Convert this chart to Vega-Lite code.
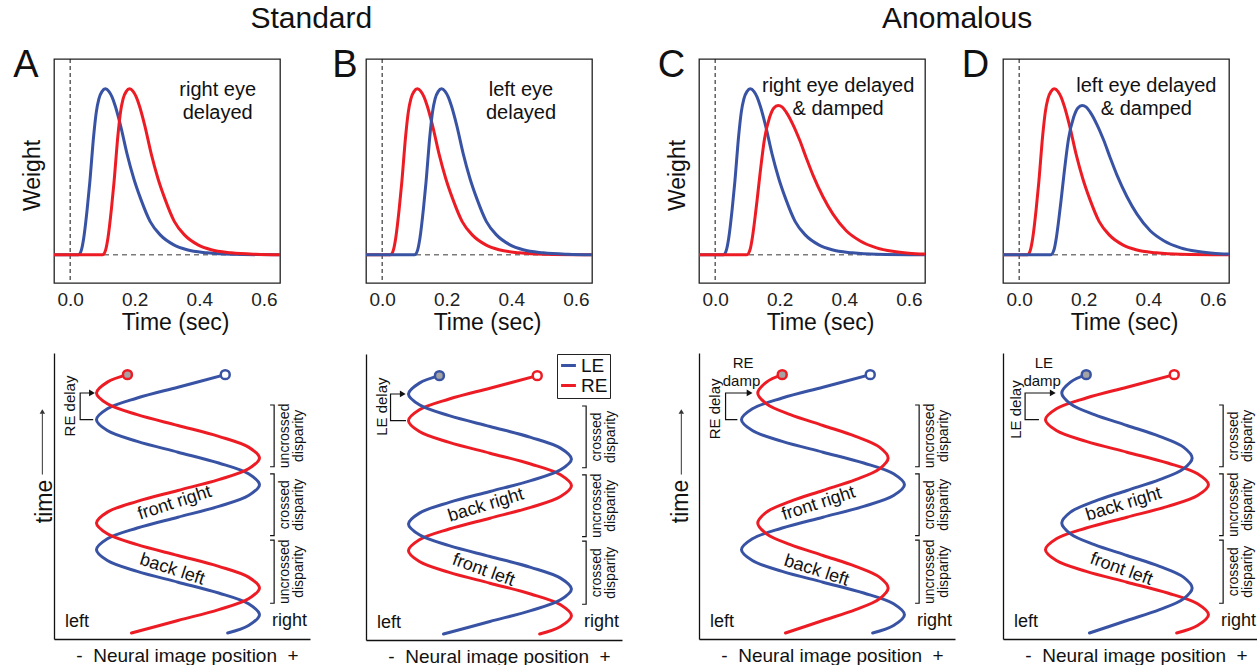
{
"$schema": "https://vega.github.io/schema/vega-lite/v6.json",
"background": "white",
"padding": {"left": 12, "top": 4, "right": 0, "bottom": 0},
"config": {
  "font": "Liberation Sans",
  "view": {"stroke": null},
  "axis": {"grid": false, "ticks": false, "tickSize": 0, "labelFont": "Liberation Sans", "titleFont": "Liberation Sans", "titleFontWeight": "normal", "titleColor": "#111", "labelColor": "#222", "domainColor": "#111", "domainWidth": 1.3},
  "text": {"font": "Liberation Sans", "color": "#111"},
  "title": {"font": "Liberation Sans", "fontWeight": "normal", "fontSize": 30, "color": "#111", "anchor": "middle"},
  "legend": {"labelFont": "Liberation Sans"}
},
"datasets": {
  "wU": [{"t":-0.05,"w":0},{"t":0.026,"w":0},{"t":0.035,"w":0.03},{"t":0.042,"w":0.1},{"t":0.053,"w":0.28},{"t":0.061,"w":0.44},{"t":0.073,"w":0.72},{"t":0.081,"w":0.86},{"t":0.089,"w":0.94},{"t":0.099,"w":0.985},{"t":0.109,"w":1},{"t":0.12,"w":0.985},{"t":0.13,"w":0.95},{"t":0.14,"w":0.895},{"t":0.156,"w":0.78},{"t":0.176,"w":0.61},{"t":0.197,"w":0.46},{"t":0.218,"w":0.34},{"t":0.248,"w":0.2},{"t":0.279,"w":0.12},{"t":0.321,"w":0.06},{"t":0.362,"w":0.03},{"t":0.424,"w":0.012},{"t":0.5,"w":0.003},{"t":0.65,"w":0}],
  "wD": [{"t":-0.05,"w":0},{"t":0.101,"w":0},{"t":0.11,"w":0.03},{"t":0.117,"w":0.1},{"t":0.128,"w":0.28},{"t":0.136,"w":0.44},{"t":0.148,"w":0.72},{"t":0.156,"w":0.86},{"t":0.164,"w":0.94},{"t":0.174,"w":0.985},{"t":0.184,"w":1},{"t":0.195,"w":0.985},{"t":0.205,"w":0.95},{"t":0.215,"w":0.895},{"t":0.231,"w":0.78},{"t":0.251,"w":0.61},{"t":0.272,"w":0.46},{"t":0.293,"w":0.34},{"t":0.323,"w":0.2},{"t":0.354,"w":0.12},{"t":0.396,"w":0.06},{"t":0.437,"w":0.03},{"t":0.499,"w":0.012},{"t":0.575,"w":0.003},{"t":0.65,"w":0}],
  "wDD": [{"t":-0.05,"w":0},{"t":0.098,"w":0},{"t":0.108,"w":0.03},{"t":0.115,"w":0.1},{"t":0.122,"w":0.2},{"t":0.13,"w":0.33},{"t":0.138,"w":0.47},{"t":0.153,"w":0.7},{"t":0.169,"w":0.83},{"t":0.182,"w":0.885},{"t":0.195,"w":0.9},{"t":0.208,"w":0.89},{"t":0.22,"w":0.86},{"t":0.241,"w":0.785},{"t":0.262,"w":0.69},{"t":0.282,"w":0.585},{"t":0.303,"w":0.48},{"t":0.334,"w":0.35},{"t":0.365,"w":0.245},{"t":0.406,"w":0.145},{"t":0.448,"w":0.085},{"t":0.5,"w":0.042},{"t":0.55,"w":0.021},{"t":0.6,"w":0.01},{"t":0.65,"w":0.005}],
  "sU": [{"t":0.092,"x":0.61},{"t":0.207,"x":0.866},{"t":0.374,"x":1},{"t":0.541,"x":0.866},{"t":0.707,"x":0.5},{"t":0.874,"x":0},{"t":1.041,"x":-0.5},{"t":1.207,"x":-0.866},{"t":1.374,"x":-1},{"t":1.541,"x":-0.866},{"t":1.707,"x":-0.5},{"t":1.874,"x":0},{"t":2.041,"x":0.5},{"t":2.207,"x":0.866},{"t":2.374,"x":1},{"t":2.541,"x":0.866},{"t":2.707,"x":0.5},{"t":2.874,"x":0},{"t":3.041,"x":-0.5},{"t":3.207,"x":-0.866},{"t":3.374,"x":-1},{"t":3.541,"x":-0.866},{"t":3.707,"x":-0.5},{"t":3.874,"x":0},{"t":4.067,"x":0.58}],
  "sD": [{"t":0.092,"x":-0.57},{"t":0.285,"x":0},{"t":0.452,"x":0.5},{"t":0.618,"x":0.866},{"t":0.785,"x":1},{"t":0.952,"x":0.866},{"t":1.118,"x":0.5},{"t":1.285,"x":0},{"t":1.452,"x":-0.5},{"t":1.618,"x":-0.866},{"t":1.785,"x":-1},{"t":1.952,"x":-0.866},{"t":2.118,"x":-0.5},{"t":2.285,"x":0},{"t":2.452,"x":0.5},{"t":2.618,"x":0.866},{"t":2.785,"x":1},{"t":2.952,"x":0.866},{"t":3.118,"x":0.5},{"t":3.285,"x":0},{"t":3.452,"x":-0.5},{"t":3.618,"x":-0.866},{"t":3.785,"x":-1},{"t":3.952,"x":-0.866},{"t":4.067,"x":-0.62}],
  "sDD": [{"t":0.092,"x":-0.46},{"t":0.285,"x":0},{"t":0.452,"x":0.4},{"t":0.618,"x":0.693},{"t":0.785,"x":0.8},{"t":0.952,"x":0.693},{"t":1.118,"x":0.4},{"t":1.285,"x":0},{"t":1.452,"x":-0.4},{"t":1.618,"x":-0.693},{"t":1.785,"x":-0.8},{"t":1.952,"x":-0.693},{"t":2.118,"x":-0.4},{"t":2.285,"x":0},{"t":2.452,"x":0.4},{"t":2.618,"x":0.693},{"t":2.785,"x":0.8},{"t":2.952,"x":0.693},{"t":3.118,"x":0.4},{"t":3.285,"x":0},{"t":3.452,"x":-0.4},{"t":3.618,"x":-0.693},{"t":3.785,"x":-0.8},{"t":3.952,"x":-0.693},{"t":4.067,"x":-0.5}],
  "brackets": [{"id":1,"o":1,"x":1.13,"t":3.6},{"id":1,"o":2,"x":1.18,"t":3.6},{"id":1,"o":3,"x":1.18,"t":2.65},{"id":1,"o":4,"x":1.13,"t":2.65},{"id":2,"o":1,"x":1.13,"t":2.54},{"id":2,"o":2,"x":1.18,"t":2.54},{"id":2,"o":3,"x":1.18,"t":1.59},{"id":2,"o":4,"x":1.13,"t":1.59},{"id":3,"o":1,"x":1.13,"t":1.52},{"id":3,"o":2,"x":1.18,"t":1.52},{"id":3,"o":3,"x":1.18,"t":0.55},{"id":3,"o":4,"x":1.13,"t":0.55}],
  "dispAC": [{"label":"uncrossed","x":1.313,"t":3.125},{"label":"disparity","x":1.485,"t":3.125},{"label":"crossed","x":1.313,"t":2.065},{"label":"disparity","x":1.485,"t":2.065},{"label":"uncrossed","x":1.313,"t":1.035},{"label":"disparity","x":1.485,"t":1.035}],
  "dispBD": [{"label":"crossed","x":1.313,"t":3.125},{"label":"disparity","x":1.485,"t":3.125},{"label":"uncrossed","x":1.313,"t":2.065},{"label":"disparity","x":1.485,"t":2.065},{"label":"crossed","x":1.313,"t":1.035},{"label":"disparity","x":1.485,"t":1.035}],
  "lr": [{"label":"left","x":-1.239,"t":0.257},{"label":"right","x":1.368,"t":0.27}]
},
"spacing": 35,
"resolve": {"scale": {"color": "independent"}, "legend": {"color": "independent"}},
"hconcat": [
 {
  "title": {"text": "Standard", "offset": 12, "dx": -6, "anchor": "middle"},
  "spacing": 21,
  "resolve": {"scale": {"color": "independent"}, "legend": {"color": "independent"}},
  "hconcat": [
   {
    "spacing": 18,
    "resolve": {"scale": {"color": "independent"}, "legend": {"color": "independent"}},
    "vconcat": [
     {
      "width": 226, "height": 224,
      "view": {"stroke": "#222", "strokeWidth": 1.3},
      "layer": [
       {"data": {"values": [{"t": 0}]}, "mark": {"type": "rule", "color": "#111", "strokeWidth": 1, "strokeDash": [4, 3]},
        "encoding": {"x": {"field": "t", "type": "quantitative", "scale": {"domain": [-0.05, 0.65], "nice": false, "zero": false}, "axis": {"values": [0, 0.2, 0.4, 0.6], "format": ".1f", "title": "Time (sec)", "titleX": 121, "labelFontSize": 19, "titleFontSize": 23, "labelPadding": 7, "titlePadding": 2, "domain": false}}}},
       {"data": {"values": [{"w": 0}]}, "mark": {"type": "rule", "color": "#7a7a7a", "strokeWidth": 1.5, "strokeDash": [5, 4]},
        "encoding": {"y": {"field": "w", "type": "quantitative", "scale": {"domain": [-0.17, 1.18], "nice": false, "zero": false}, "axis": {"title": "Weight", "labels": false, "domain": false, "titleFontSize": 23, "titlePadding": 10, "titleY": 116}}}},
       {"data": {"name": "wU"}, "mark": {"type": "line", "interpolate": "monotone", "strokeWidth": 3}, "encoding": {"x": {"field": "t", "type": "quantitative"}, "y": {"field": "w", "type": "quantitative"}, "color": {"datum": "LE", "scale": {"domain": ["LE", "RE"], "range": ["#3953a4", "#ed1c24"]}, "legend": null}}},
       {"data": {"name": "wD"}, "mark": {"type": "line", "interpolate": "monotone", "strokeWidth": 3}, "encoding": {"x": {"field": "t", "type": "quantitative"}, "y": {"field": "w", "type": "quantitative"}, "color": {"datum": "RE", "scale": {"domain": ["LE", "RE"], "range": ["#3953a4", "#ed1c24"]}, "legend": null}}},
       {"data": {"values": [{"label": "A", "t": -0.137, "w": 1.071}]}, "mark": {"type": "text", "fontSize": 38, "align": "center", "baseline": "alphabetic"}, "encoding": {"x": {"field": "t", "type": "quantitative"}, "y": {"field": "w", "type": "quantitative"}, "text": {"field": "label"}}},
       {"data": {"values": [{"label": "right eye", "t": 0.457, "w": 0.956}, {"label": "delayed", "t": 0.457, "w": 0.819}]}, "mark": {"type": "text", "fontSize": 20, "align": "center", "baseline": "alphabetic"}, "encoding": {"x": {"field": "t", "type": "quantitative"}, "y": {"field": "w", "type": "quantitative"}, "text": {"field": "label"}}}
      ]
     },
     {
      "width": 256, "height": 286,
      "layer": [
       {"data": {"name": "sU"}, "mark": {"type": "line", "interpolate": "catmull-rom", "strokeWidth": 3, "strokeCap": "round"},
        "encoding": {"x": {"field": "x", "type": "quantitative", "scale": {"domain": [-1.521, 1.62], "nice": false, "zero": false}, "axis": {"title": "-\u00a0\u00a0Neural image position\u00a0\u00a0+", "labels": false, "titleFontSize": 19, "titlePadding": 7, "titleX": 133}},
         "y": {"field": "t", "type": "quantitative", "scale": {"domain": [0, 4.4], "nice": false, "zero": false}, "axis": {"title": "time", "labels": false, "titleFontSize": 23, "titlePadding": -2, "titleY": 148}},
         "order": {"field": "t"}, "color": {"datum": "LE", "scale": {"domain": ["LE", "RE"], "range": ["#3953a4", "#ed1c24"]}, "legend": null}}},
       {"data": {"name": "sD"}, "mark": {"type": "line", "interpolate": "catmull-rom", "strokeWidth": 3, "strokeCap": "round"},
        "encoding": {"x": {"field": "x", "type": "quantitative"}, "y": {"field": "t", "type": "quantitative"}, "order": {"field": "t"}, "color": {"datum": "RE", "scale": {"domain": ["LE", "RE"], "range": ["#3953a4", "#ed1c24"]}, "legend": null}}},
       {"data": {"values": [{"x": -0.62, "t": 4.067}]}, "mark": {"type": "point", "shape": "circle", "filled": true, "fill": "#a3a3a3", "stroke": "#ed1c24", "strokeWidth": 2.5, "size": 80, "opacity": 1}, "encoding": {"x": {"field": "x", "type": "quantitative"}, "y": {"field": "t", "type": "quantitative"}}},
       {"data": {"values": [{"x": 0.58, "t": 4.067}]}, "mark": {"type": "point", "shape": "circle", "filled": true, "fill": "white", "stroke": "#3953a4", "strokeWidth": 2.5, "size": 80, "opacity": 1}, "encoding": {"x": {"field": "x", "type": "quantitative"}, "y": {"field": "t", "type": "quantitative"}}},
       {"data": {"values": [{"label": "front right", "x": -0.04, "t": 2.09}]}, "mark": {"type": "text", "fontSize": 18, "angle": 342, "align": "center", "baseline": "middle"}, "encoding": {"x": {"field": "x", "type": "quantitative"}, "y": {"field": "t", "type": "quantitative"}, "text": {"field": "label"}}},
       {"data": {"values": [{"label": "back left", "x": -0.07, "t": 1.066}]}, "mark": {"type": "text", "fontSize": 18, "angle": 18, "align": "center", "baseline": "middle"}, "encoding": {"x": {"field": "x", "type": "quantitative"}, "y": {"field": "t", "type": "quantitative"}, "text": {"field": "label"}}},
       {"data": {"name": "lr"}, "mark": {"type": "text", "fontSize": 18, "align": "center", "baseline": "middle"}, "encoding": {"x": {"field": "x", "type": "quantitative"}, "y": {"field": "t", "type": "quantitative"}, "text": {"field": "label"}}},
       {"data": {"name": "dispAC"}, "mark": {"type": "text", "fontSize": 14, "angle": 270, "align": "center", "baseline": "middle"}, "encoding": {"x": {"field": "x", "type": "quantitative"}, "y": {"field": "t", "type": "quantitative"}, "text": {"field": "label"}}},
       {"data": {"name": "brackets"}, "mark": {"type": "line", "color": "#111", "strokeWidth": 1.2}, "encoding": {"x": {"field": "x", "type": "quantitative"}, "y": {"field": "t", "type": "quantitative"}, "detail": {"field": "id"}, "order": {"field": "o"}}},
       {"data": {"values": [{"label": "RE delay", "x": -1.325, "t": 3.585}]}, "mark": {"type": "text", "fontSize": 15, "angle": 270, "align": "center", "baseline": "middle"}, "encoding": {"x": {"field": "x", "type": "quantitative"}, "y": {"field": "t", "type": "quantitative"}, "text": {"field": "label"}}},
       {"data": {"values": [{"o": 1, "x": -1.04, "t": 3.374}, {"o": 2, "x": -1.2, "t": 3.374}, {"o": 3, "x": -1.2, "t": 3.785}, {"o": 4, "x": -1.07, "t": 3.785}]}, "mark": {"type": "line", "color": "#111", "strokeWidth": 1.2}, "encoding": {"x": {"field": "x", "type": "quantitative"}, "y": {"field": "t", "type": "quantitative"}, "order": {"field": "o"}}},
       {"data": {"values": [{"x": -1.055, "t": 3.785}]}, "mark": {"type": "point", "shape": "triangle-right", "filled": true, "color": "#111", "size": 45, "opacity": 1}, "encoding": {"x": {"field": "x", "type": "quantitative"}, "y": {"field": "t", "type": "quantitative"}}},
       {"data": {"values": [{"x": -1.664, "t1": 2.53, "t2": 3.47}]}, "mark": {"type": "rule", "color": "#333", "strokeWidth": 1}, "encoding": {"x": {"field": "x", "type": "quantitative"}, "y": {"field": "t1", "type": "quantitative"}, "y2": {"field": "t2"}}},
       {"data": {"values": [{"x": -1.664, "t": 3.5}]}, "mark": {"type": "point", "shape": "triangle-up", "filled": true, "color": "#333", "size": 30, "opacity": 1}, "encoding": {"x": {"field": "x", "type": "quantitative"}, "y": {"field": "t", "type": "quantitative"}}}
      ]
     }
    ]
   },
   {
    "spacing": 18,
    "resolve": {"scale": {"color": "independent"}, "legend": {"color": "independent"}},
    "vconcat": [
     {
      "width": 226, "height": 224,
      "view": {"stroke": "#222", "strokeWidth": 1.3},
      "layer": [
       {"data": {"values": [{"t": 0}]}, "mark": {"type": "rule", "color": "#111", "strokeWidth": 1, "strokeDash": [4, 3]},
        "encoding": {"x": {"field": "t", "type": "quantitative", "scale": {"domain": [-0.05, 0.65], "nice": false, "zero": false}, "axis": {"values": [0, 0.2, 0.4, 0.6], "format": ".1f", "title": "Time (sec)", "titleX": 121, "labelFontSize": 19, "titleFontSize": 23, "labelPadding": 7, "titlePadding": 2, "domain": false}}}},
       {"data": {"values": [{"w": 0}]}, "mark": {"type": "rule", "color": "#7a7a7a", "strokeWidth": 1.5, "strokeDash": [5, 4]},
        "encoding": {"y": {"field": "w", "type": "quantitative", "scale": {"domain": [-0.17, 1.18], "nice": false, "zero": false}, "axis": null}}},
       {"data": {"name": "wU"}, "mark": {"type": "line", "interpolate": "monotone", "strokeWidth": 3}, "encoding": {"x": {"field": "t", "type": "quantitative"}, "y": {"field": "w", "type": "quantitative"}, "color": {"datum": "RE", "scale": {"domain": ["LE", "RE"], "range": ["#3953a4", "#ed1c24"]}, "legend": null}}},
       {"data": {"name": "wD"}, "mark": {"type": "line", "interpolate": "monotone", "strokeWidth": 3}, "encoding": {"x": {"field": "t", "type": "quantitative"}, "y": {"field": "w", "type": "quantitative"}, "color": {"datum": "LE", "scale": {"domain": ["LE", "RE"], "range": ["#3953a4", "#ed1c24"]}, "legend": null}}},
       {"data": {"values": [{"label": "B", "t": -0.115, "w": 1.071}]}, "mark": {"type": "text", "fontSize": 38, "align": "center", "baseline": "alphabetic"}, "encoding": {"x": {"field": "t", "type": "quantitative"}, "y": {"field": "w", "type": "quantitative"}, "text": {"field": "label"}}},
       {"data": {"values": [{"label": "left eye", "t": 0.43, "w": 0.956}, {"label": "delayed", "t": 0.43, "w": 0.819}]}, "mark": {"type": "text", "fontSize": 20, "align": "center", "baseline": "alphabetic"}, "encoding": {"x": {"field": "t", "type": "quantitative"}, "y": {"field": "w", "type": "quantitative"}, "text": {"field": "label"}}}
      ]
     },
     {
      "width": 256, "height": 286,
      "layer": [
       {"data": {"name": "sU"}, "mark": {"type": "line", "interpolate": "catmull-rom", "strokeWidth": 3, "strokeCap": "round"},
        "encoding": {"x": {"field": "x", "type": "quantitative", "scale": {"domain": [-1.521, 1.62], "nice": false, "zero": false}, "axis": {"title": "-\u00a0\u00a0Neural image position\u00a0\u00a0+", "labels": false, "titleFontSize": 19, "titlePadding": 7, "titleX": 133}},
         "y": {"field": "t", "type": "quantitative", "scale": {"domain": [0, 4.4], "nice": false, "zero": false}, "axis": {"title": null, "labels": false}},
         "order": {"field": "t"}, "color": {"datum": "RE", "scale": {"domain": ["LE", "RE"], "range": ["#3953a4", "#ed1c24"]}, "legend": {"orient": "none", "legendX": 191, "legendY": 0, "title": null, "strokeColor": "#222", "fillColor": "white", "padding": 2, "labelFontSize": 19, "labelColor": "#111", "symbolType": "stroke", "symbolStrokeWidth": 3, "symbolSize": 220, "rowPadding": -4, "labelOffset": 3}}}},
       {"data": {"name": "sD"}, "mark": {"type": "line", "interpolate": "catmull-rom", "strokeWidth": 3, "strokeCap": "round"},
        "encoding": {"x": {"field": "x", "type": "quantitative"}, "y": {"field": "t", "type": "quantitative"}, "order": {"field": "t"}, "color": {"datum": "LE", "scale": {"domain": ["LE", "RE"], "range": ["#3953a4", "#ed1c24"]}, "legend": {"orient": "none", "legendX": 191, "legendY": 0, "title": null, "strokeColor": "#222", "fillColor": "white", "padding": 2, "labelFontSize": 19, "labelColor": "#111", "symbolType": "stroke", "symbolStrokeWidth": 3, "symbolSize": 220, "rowPadding": -4, "labelOffset": 3}}}},
       {"data": {"values": [{"x": -0.62, "t": 4.067}]}, "mark": {"type": "point", "shape": "circle", "filled": true, "fill": "#a3a3a3", "stroke": "#3953a4", "strokeWidth": 2.5, "size": 80, "opacity": 1}, "encoding": {"x": {"field": "x", "type": "quantitative"}, "y": {"field": "t", "type": "quantitative"}}},
       {"data": {"values": [{"x": 0.58, "t": 4.067}]}, "mark": {"type": "point", "shape": "circle", "filled": true, "fill": "white", "stroke": "#ed1c24", "strokeWidth": 2.5, "size": 80, "opacity": 1}, "encoding": {"x": {"field": "x", "type": "quantitative"}, "y": {"field": "t", "type": "quantitative"}}},
       {"data": {"values": [{"label": "back right", "x": -0.05, "t": 2.07}]}, "mark": {"type": "text", "fontSize": 18, "angle": 343, "align": "center", "baseline": "middle"}, "encoding": {"x": {"field": "x", "type": "quantitative"}, "y": {"field": "t", "type": "quantitative"}, "text": {"field": "label"}}},
       {"data": {"values": [{"label": "front left", "x": -0.08, "t": 1.07}]}, "mark": {"type": "text", "fontSize": 18, "angle": 20, "align": "center", "baseline": "middle"}, "encoding": {"x": {"field": "x", "type": "quantitative"}, "y": {"field": "t", "type": "quantitative"}, "text": {"field": "label"}}},
       {"data": {"name": "lr"}, "mark": {"type": "text", "fontSize": 18, "align": "center", "baseline": "middle"}, "encoding": {"x": {"field": "x", "type": "quantitative"}, "y": {"field": "t", "type": "quantitative"}, "text": {"field": "label"}}},
       {"data": {"name": "dispBD"}, "mark": {"type": "text", "fontSize": 14, "angle": 270, "align": "center", "baseline": "middle"}, "encoding": {"x": {"field": "x", "type": "quantitative"}, "y": {"field": "t", "type": "quantitative"}, "text": {"field": "label"}}},
       {"data": {"name": "brackets"}, "mark": {"type": "line", "color": "#111", "strokeWidth": 1.2}, "encoding": {"x": {"field": "x", "type": "quantitative"}, "y": {"field": "t", "type": "quantitative"}, "detail": {"field": "id"}, "order": {"field": "o"}}},
       {"data": {"values": [{"label": "LE delay", "x": -1.33, "t": 3.59}]}, "mark": {"type": "text", "fontSize": 15, "angle": 270, "align": "center", "baseline": "middle"}, "encoding": {"x": {"field": "x", "type": "quantitative"}, "y": {"field": "t", "type": "quantitative"}, "text": {"field": "label"}}},
       {"data": {"values": [{"o": 1, "x": -1.03, "t": 3.374}, {"o": 2, "x": -1.22, "t": 3.374}, {"o": 3, "x": -1.22, "t": 3.785}, {"o": 4, "x": -1.09, "t": 3.785}]}, "mark": {"type": "line", "color": "#111", "strokeWidth": 1.2}, "encoding": {"x": {"field": "x", "type": "quantitative"}, "y": {"field": "t", "type": "quantitative"}, "order": {"field": "o"}}},
       {"data": {"values": [{"x": -1.07, "t": 3.785}]}, "mark": {"type": "point", "shape": "triangle-right", "filled": true, "color": "#111", "size": 45, "opacity": 1}, "encoding": {"x": {"field": "x", "type": "quantitative"}, "y": {"field": "t", "type": "quantitative"}}}
      ]
     }
    ]
   }
  ]
 },
 {
  "title": {"text": "Anomalous", "offset": 12, "dx": -1, "anchor": "middle"},
  "spacing": 6,
  "resolve": {"scale": {"color": "independent"}, "legend": {"color": "independent"}},
  "hconcat": [
   {
    "spacing": 18,
    "resolve": {"scale": {"color": "independent"}, "legend": {"color": "independent"}},
    "vconcat": [
     {
      "width": 226, "height": 224,
      "view": {"stroke": "#222", "strokeWidth": 1.3},
      "layer": [
       {"data": {"values": [{"t": 0}]}, "mark": {"type": "rule", "color": "#111", "strokeWidth": 1, "strokeDash": [4, 3]},
        "encoding": {"x": {"field": "t", "type": "quantitative", "scale": {"domain": [-0.05, 0.65], "nice": false, "zero": false}, "axis": {"values": [0, 0.2, 0.4, 0.6], "format": ".1f", "title": "Time (sec)", "titleX": 121, "labelFontSize": 19, "titleFontSize": 23, "labelPadding": 7, "titlePadding": 2, "domain": false}}}},
       {"data": {"values": [{"w": 0}]}, "mark": {"type": "rule", "color": "#7a7a7a", "strokeWidth": 1.5, "strokeDash": [5, 4]},
        "encoding": {"y": {"field": "w", "type": "quantitative", "scale": {"domain": [-0.17, 1.18], "nice": false, "zero": false}, "axis": {"title": "Weight", "labels": false, "domain": false, "titleFontSize": 23, "titlePadding": 10, "titleY": 116}}}},
       {"data": {"name": "wU"}, "mark": {"type": "line", "interpolate": "monotone", "strokeWidth": 3}, "encoding": {"x": {"field": "t", "type": "quantitative"}, "y": {"field": "w", "type": "quantitative"}, "color": {"datum": "LE", "scale": {"domain": ["LE", "RE"], "range": ["#3953a4", "#ed1c24"]}, "legend": null}}},
       {"data": {"name": "wDD"}, "mark": {"type": "line", "interpolate": "monotone", "strokeWidth": 3}, "encoding": {"x": {"field": "t", "type": "quantitative"}, "y": {"field": "w", "type": "quantitative"}, "color": {"datum": "RE", "scale": {"domain": ["LE", "RE"], "range": ["#3953a4", "#ed1c24"]}, "legend": null}}},
       {"data": {"values": [{"label": "C", "t": -0.135, "w": 1.071}]}, "mark": {"type": "text", "fontSize": 38, "align": "center", "baseline": "alphabetic"}, "encoding": {"x": {"field": "t", "type": "quantitative"}, "y": {"field": "w", "type": "quantitative"}, "text": {"field": "label"}}},
       {"data": {"values": [{"label": "right eye delayed", "t": 0.381, "w": 0.98}, {"label": "& damped", "t": 0.381, "w": 0.843}]}, "mark": {"type": "text", "fontSize": 20, "align": "center", "baseline": "alphabetic"}, "encoding": {"x": {"field": "t", "type": "quantitative"}, "y": {"field": "w", "type": "quantitative"}, "text": {"field": "label"}}}
      ]
     },
     {
      "width": 256, "height": 286,
      "layer": [
       {"data": {"name": "sU"}, "mark": {"type": "line", "interpolate": "catmull-rom", "strokeWidth": 3, "strokeCap": "round"},
        "encoding": {"x": {"field": "x", "type": "quantitative", "scale": {"domain": [-1.521, 1.62], "nice": false, "zero": false}, "axis": {"title": "-\u00a0\u00a0Neural image position\u00a0\u00a0+", "labels": false, "titleFontSize": 19, "titlePadding": 7, "titleX": 133}},
         "y": {"field": "t", "type": "quantitative", "scale": {"domain": [0, 4.4], "nice": false, "zero": false}, "axis": {"title": "time", "labels": false, "titleFontSize": 23, "titlePadding": 7, "titleY": 148}},
         "order": {"field": "t"}, "color": {"datum": "LE", "scale": {"domain": ["LE", "RE"], "range": ["#3953a4", "#ed1c24"]}, "legend": null}}},
       {"data": {"name": "sDD"}, "mark": {"type": "line", "interpolate": "catmull-rom", "strokeWidth": 3, "strokeCap": "round"},
        "encoding": {"x": {"field": "x", "type": "quantitative"}, "y": {"field": "t", "type": "quantitative"}, "order": {"field": "t"}, "color": {"datum": "RE", "scale": {"domain": ["LE", "RE"], "range": ["#3953a4", "#ed1c24"]}, "legend": null}}},
       {"data": {"values": [{"x": -0.5, "t": 4.067}]}, "mark": {"type": "point", "shape": "circle", "filled": true, "fill": "#a3a3a3", "stroke": "#ed1c24", "strokeWidth": 2.5, "size": 80, "opacity": 1}, "encoding": {"x": {"field": "x", "type": "quantitative"}, "y": {"field": "t", "type": "quantitative"}}},
       {"data": {"values": [{"x": 0.58, "t": 4.067}]}, "mark": {"type": "point", "shape": "circle", "filled": true, "fill": "white", "stroke": "#3953a4", "strokeWidth": 2.5, "size": 80, "opacity": 1}, "encoding": {"x": {"field": "x", "type": "quantitative"}, "y": {"field": "t", "type": "quantitative"}}},
       {"data": {"values": [{"label": "front right", "x": -0.054, "t": 2.08}]}, "mark": {"type": "text", "fontSize": 18, "angle": 342, "align": "center", "baseline": "middle"}, "encoding": {"x": {"field": "x", "type": "quantitative"}, "y": {"field": "t", "type": "quantitative"}, "text": {"field": "label"}}},
       {"data": {"values": [{"label": "back left", "x": -0.08, "t": 1.05}]}, "mark": {"type": "text", "fontSize": 18, "angle": 18, "align": "center", "baseline": "middle"}, "encoding": {"x": {"field": "x", "type": "quantitative"}, "y": {"field": "t", "type": "quantitative"}, "text": {"field": "label"}}},
       {"data": {"name": "lr"}, "mark": {"type": "text", "fontSize": 18, "align": "center", "baseline": "middle"}, "encoding": {"x": {"field": "x", "type": "quantitative"}, "y": {"field": "t", "type": "quantitative"}, "text": {"field": "label"}}},
       {"data": {"name": "dispAC"}, "mark": {"type": "text", "fontSize": 14, "angle": 270, "align": "center", "baseline": "middle"}, "encoding": {"x": {"field": "x", "type": "quantitative"}, "y": {"field": "t", "type": "quantitative"}, "text": {"field": "label"}}},
       {"data": {"name": "brackets"}, "mark": {"type": "line", "color": "#111", "strokeWidth": 1.2}, "encoding": {"x": {"field": "x", "type": "quantitative"}, "y": {"field": "t", "type": "quantitative"}, "detail": {"field": "id"}, "order": {"field": "o"}}},
       {"data": {"values": [{"label": "RE delay", "x": -1.33, "t": 3.54}]}, "mark": {"type": "text", "fontSize": 15, "angle": 270, "align": "center", "baseline": "middle"}, "encoding": {"x": {"field": "x", "type": "quantitative"}, "y": {"field": "t", "type": "quantitative"}, "text": {"field": "label"}}},
       {"data": {"values": [{"label": "RE", "x": -0.98, "t": 4.25}, {"label": "damp", "x": -1.0, "t": 3.97}]}, "mark": {"type": "text", "fontSize": 15, "align": "center", "baseline": "middle"}, "encoding": {"x": {"field": "x", "type": "quantitative"}, "y": {"field": "t", "type": "quantitative"}, "text": {"field": "label"}}},
       {"data": {"values": [{"o": 1, "x": -1.05, "t": 3.374}, {"o": 2, "x": -1.195, "t": 3.374}, {"o": 3, "x": -1.195, "t": 3.785}, {"o": 4, "x": -0.93, "t": 3.785}]}, "mark": {"type": "line", "color": "#111", "strokeWidth": 1.2}, "encoding": {"x": {"field": "x", "type": "quantitative"}, "y": {"field": "t", "type": "quantitative"}, "order": {"field": "o"}}},
       {"data": {"values": [{"x": -0.9, "t": 3.785}]}, "mark": {"type": "point", "shape": "triangle-right", "filled": true, "color": "#111", "size": 45, "opacity": 1}, "encoding": {"x": {"field": "x", "type": "quantitative"}, "y": {"field": "t", "type": "quantitative"}}},
       {"data": {"values": [{"x": -1.738, "t1": 2.53, "t2": 3.47}]}, "mark": {"type": "rule", "color": "#333", "strokeWidth": 1}, "encoding": {"x": {"field": "x", "type": "quantitative"}, "y": {"field": "t1", "type": "quantitative"}, "y2": {"field": "t2"}}},
       {"data": {"values": [{"x": -1.738, "t": 3.5}]}, "mark": {"type": "point", "shape": "triangle-up", "filled": true, "color": "#333", "size": 30, "opacity": 1}, "encoding": {"x": {"field": "x", "type": "quantitative"}, "y": {"field": "t", "type": "quantitative"}}}
      ]
     }
    ]
   },
   {
    "spacing": 18,
    "resolve": {"scale": {"color": "independent"}, "legend": {"color": "independent"}},
    "vconcat": [
     {
      "width": 226, "height": 224,
      "view": {"stroke": "#222", "strokeWidth": 1.3},
      "layer": [
       {"data": {"values": [{"t": 0}]}, "mark": {"type": "rule", "color": "#111", "strokeWidth": 1, "strokeDash": [4, 3]},
        "encoding": {"x": {"field": "t", "type": "quantitative", "scale": {"domain": [-0.05, 0.65], "nice": false, "zero": false}, "axis": {"values": [0, 0.2, 0.4, 0.6], "format": ".1f", "title": "Time (sec)", "titleX": 121, "labelFontSize": 19, "titleFontSize": 23, "labelPadding": 7, "titlePadding": 2, "domain": false}}}},
       {"data": {"values": [{"w": 0}]}, "mark": {"type": "rule", "color": "#7a7a7a", "strokeWidth": 1.5, "strokeDash": [5, 4]},
        "encoding": {"y": {"field": "w", "type": "quantitative", "scale": {"domain": [-0.17, 1.18], "nice": false, "zero": false}, "axis": null}}},
       {"data": {"name": "wU"}, "mark": {"type": "line", "interpolate": "monotone", "strokeWidth": 3}, "encoding": {"x": {"field": "t", "type": "quantitative"}, "y": {"field": "w", "type": "quantitative"}, "color": {"datum": "RE", "scale": {"domain": ["LE", "RE"], "range": ["#3953a4", "#ed1c24"]}, "legend": null}}},
       {"data": {"name": "wDD"}, "mark": {"type": "line", "interpolate": "monotone", "strokeWidth": 3}, "encoding": {"x": {"field": "t", "type": "quantitative"}, "y": {"field": "w", "type": "quantitative"}, "color": {"datum": "LE", "scale": {"domain": ["LE", "RE"], "range": ["#3953a4", "#ed1c24"]}, "legend": null}}},
       {"data": {"values": [{"label": "D", "t": -0.135, "w": 1.071}]}, "mark": {"type": "text", "fontSize": 38, "align": "center", "baseline": "alphabetic"}, "encoding": {"x": {"field": "t", "type": "quantitative"}, "y": {"field": "w", "type": "quantitative"}, "text": {"field": "label"}}},
       {"data": {"values": [{"label": "left eye delayed", "t": 0.394, "w": 0.98}, {"label": "& damped", "t": 0.394, "w": 0.843}]}, "mark": {"type": "text", "fontSize": 20, "align": "center", "baseline": "alphabetic"}, "encoding": {"x": {"field": "t", "type": "quantitative"}, "y": {"field": "w", "type": "quantitative"}, "text": {"field": "label"}}}
      ]
     },
     {
      "width": 256, "height": 286,
      "layer": [
       {"data": {"name": "sU"}, "mark": {"type": "line", "interpolate": "catmull-rom", "strokeWidth": 3, "strokeCap": "round"},
        "encoding": {"x": {"field": "x", "type": "quantitative", "scale": {"domain": [-1.521, 1.62], "nice": false, "zero": false}, "axis": {"title": "-\u00a0\u00a0Neural image position\u00a0\u00a0+", "labels": false, "titleFontSize": 19, "titlePadding": 7, "titleX": 133}},
         "y": {"field": "t", "type": "quantitative", "scale": {"domain": [0, 4.4], "nice": false, "zero": false}, "axis": {"title": null, "labels": false}},
         "order": {"field": "t"}, "color": {"datum": "RE", "scale": {"domain": ["LE", "RE"], "range": ["#3953a4", "#ed1c24"]}, "legend": null}}},
       {"data": {"name": "sDD"}, "mark": {"type": "line", "interpolate": "catmull-rom", "strokeWidth": 3, "strokeCap": "round"},
        "encoding": {"x": {"field": "x", "type": "quantitative"}, "y": {"field": "t", "type": "quantitative"}, "order": {"field": "t"}, "color": {"datum": "LE", "scale": {"domain": ["LE", "RE"], "range": ["#3953a4", "#ed1c24"]}, "legend": null}}},
       {"data": {"values": [{"x": -0.5, "t": 4.067}]}, "mark": {"type": "point", "shape": "circle", "filled": true, "fill": "#a3a3a3", "stroke": "#3953a4", "strokeWidth": 2.5, "size": 80, "opacity": 1}, "encoding": {"x": {"field": "x", "type": "quantitative"}, "y": {"field": "t", "type": "quantitative"}}},
       {"data": {"values": [{"x": 0.58, "t": 4.067}]}, "mark": {"type": "point", "shape": "circle", "filled": true, "fill": "white", "stroke": "#ed1c24", "strokeWidth": 2.5, "size": 80, "opacity": 1}, "encoding": {"x": {"field": "x", "type": "quantitative"}, "y": {"field": "t", "type": "quantitative"}}},
       {"data": {"values": [{"label": "back right", "x": -0.04, "t": 2.07}]}, "mark": {"type": "text", "fontSize": 18, "angle": 343, "align": "center", "baseline": "middle"}, "encoding": {"x": {"field": "x", "type": "quantitative"}, "y": {"field": "t", "type": "quantitative"}, "text": {"field": "label"}}},
       {"data": {"values": [{"label": "front left", "x": -0.07, "t": 1.07}]}, "mark": {"type": "text", "fontSize": 18, "angle": 20, "align": "center", "baseline": "middle"}, "encoding": {"x": {"field": "x", "type": "quantitative"}, "y": {"field": "t", "type": "quantitative"}, "text": {"field": "label"}}},
       {"data": {"name": "lr"}, "mark": {"type": "text", "fontSize": 18, "align": "center", "baseline": "middle"}, "encoding": {"x": {"field": "x", "type": "quantitative"}, "y": {"field": "t", "type": "quantitative"}, "text": {"field": "label"}}},
       {"data": {"name": "dispBD"}, "mark": {"type": "text", "fontSize": 14, "angle": 270, "align": "center", "baseline": "middle"}, "encoding": {"x": {"field": "x", "type": "quantitative"}, "y": {"field": "t", "type": "quantitative"}, "text": {"field": "label"}}},
       {"data": {"name": "brackets"}, "mark": {"type": "line", "color": "#111", "strokeWidth": 1.2}, "encoding": {"x": {"field": "x", "type": "quantitative"}, "y": {"field": "t", "type": "quantitative"}, "detail": {"field": "id"}, "order": {"field": "o"}}},
       {"data": {"values": [{"label": "LE delay", "x": -1.36, "t": 3.53}]}, "mark": {"type": "text", "fontSize": 15, "angle": 270, "align": "center", "baseline": "middle"}, "encoding": {"x": {"field": "x", "type": "quantitative"}, "y": {"field": "t", "type": "quantitative"}, "text": {"field": "label"}}},
       {"data": {"values": [{"label": "LE", "x": -1.02, "t": 4.25}, {"label": "damp", "x": -1.04, "t": 3.97}]}, "mark": {"type": "text", "fontSize": 15, "align": "center", "baseline": "middle"}, "encoding": {"x": {"field": "x", "type": "quantitative"}, "y": {"field": "t", "type": "quantitative"}, "text": {"field": "label"}}},
       {"data": {"values": [{"o": 1, "x": -1.08, "t": 3.374}, {"o": 2, "x": -1.25, "t": 3.374}, {"o": 3, "x": -1.25, "t": 3.785}, {"o": 4, "x": -0.93, "t": 3.785}]}, "mark": {"type": "line", "color": "#111", "strokeWidth": 1.2}, "encoding": {"x": {"field": "x", "type": "quantitative"}, "y": {"field": "t", "type": "quantitative"}, "order": {"field": "o"}}},
       {"data": {"values": [{"x": -0.91, "t": 3.785}]}, "mark": {"type": "point", "shape": "triangle-right", "filled": true, "color": "#111", "size": 45, "opacity": 1}, "encoding": {"x": {"field": "x", "type": "quantitative"}, "y": {"field": "t", "type": "quantitative"}}}
      ]
     }
    ]
   }
  ]
 }
]
}
